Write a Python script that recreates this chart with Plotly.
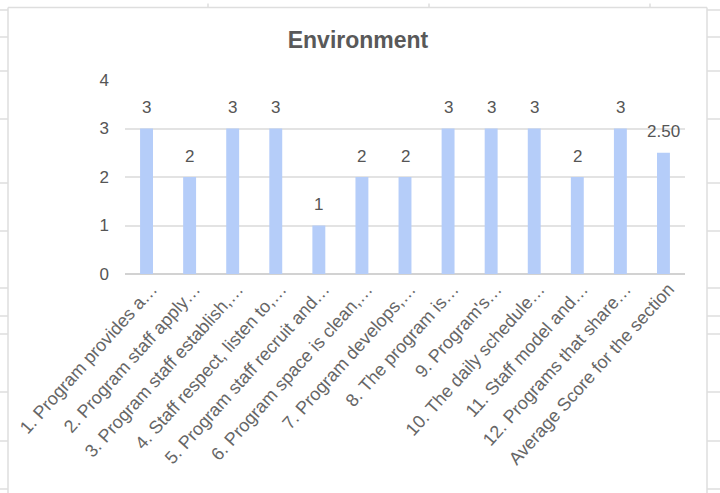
import plotly.graph_objects as go

# Section scores
categories = [
    "1. Program provides a…",
    "2. Program staff apply…",
    "3. Program staff establish,…",
    "4. Staff respect, listen to,…",
    "5. Program staff recruit and…",
    "6. Program space is clean,…",
    "7. Program develops,…",
    "8. The program is…",
    "9. Program's…",
    "10. The daily schedule…",
    "11. Staff model and…",
    "12. Programs that share…",
    "Average Score for the section",
]
item_scores = [3, 2, 3, 3, 1, 2, 2, 3, 3, 3, 2, 3]
average_score = sum(item_scores) / len(item_scores)
values = item_scores + [average_score]
labels = [str(v) for v in item_scores] + [f"{average_score:.2f}"]

y_ticks = [0, 1, 2, 3, 4]

W, H = 720, 493
L, R, T, B = 125, 35, 80, 219  # plot area spans x 125..685, y 80..274
PW, PH = W - L - R, H - T - B


def px_x(x):
    return (x - L) / PW


def px_y(y):
    return (H - B - y) / PH


FONT = "Liberation Sans, Arial, sans-serif"
BAR = "#b5cdf9"
GRID = "#e3e3e3"
CELL = "#dedede"

fig = go.Figure(
    go.Bar(
        x=categories,
        y=values,
        marker=dict(color=BAR, line=dict(width=0)),
        hoverinfo="x+y",
    )
)

# value labels above each bar
annotations = [
    dict(
        x=c, y=v, xref="x", yref="y", text=t, showarrow=False,
        yanchor="middle", yshift=21,
        font=dict(family=FONT, size=17, color="#555555"),
    )
    for c, v, t in zip(categories, values, labels)
]

# spreadsheet cell borders around the chart frame
shapes = []
line_cell = dict(color=CELL, width=1.5)
shapes.append(dict(type="line", xref="paper", yref="paper",
                   x0=px_x(8), x1=px_x(707), y0=px_y(7.5), y1=px_y(7.5), line=line_cell))
shapes.append(dict(type="line", xref="paper", yref="paper",
                   x0=px_x(8), x1=px_x(8), y0=px_y(7.5), y1=px_y(495), line=line_cell))
shapes.append(dict(type="line", xref="paper", yref="paper",
                   x0=px_x(707), x1=px_x(707), y0=px_y(7.5), y1=px_y(495), line=line_cell))
for xc in [208, 429, 650]:
    shapes.append(dict(type="line", xref="paper", yref="paper",
                       x0=px_x(xc), x1=px_x(xc), y0=px_y(3.5), y1=px_y(7.5), line=line_cell))
for yr in [10, 37, 71, 119, 183, 231, 288, 316, 334, 392, 441, 489]:
    shapes.append(dict(type="line", xref="paper", yref="paper",
                       x0=px_x(0), x1=px_x(8), y0=px_y(yr), y1=px_y(yr), line=line_cell))
    shapes.append(dict(type="line", xref="paper", yref="paper",
                       x0=px_x(707), x1=px_x(720), y0=px_y(yr), y1=px_y(yr), line=line_cell))

fig.update_layout(
    width=W, height=H,
    margin=dict(l=L, r=R, t=T, b=B, autoexpand=False),
    paper_bgcolor="white",
    plot_bgcolor="white",
    bargap=0.7,
    showlegend=False,
    title=dict(
        text="<b>Environment</b>",
        x=358 / W, y=1 - 40 / H, xref="container", yref="container",
        xanchor="center", yanchor="middle",
        font=dict(family=FONT, size=23, color="#595959"),
    ),
    xaxis=dict(
        type="category",
        tickangle=-48,
        showgrid=False,
        showline=False,
        ticks="",
        ticklabelshift=5,
        tickfont=dict(family=FONT, size=18, color="#666666"),
        automargin=False,
    ),
    yaxis=dict(
        range=[0, 4],
        tickvals=y_ticks,
        showgrid=True,
        gridcolor=GRID,
        gridwidth=1.5,
        zeroline=True,
        zerolinecolor="#d2d2d2",
        zerolinewidth=1.5,
        showline=False,
        ticks="",
        ticklabelstandoff=15,
        tickfont=dict(family=FONT, size=17, color="#555555"),
        automargin=False,
    ),
    annotations=annotations,
    shapes=shapes,
)

fig.write_html("out.html")
